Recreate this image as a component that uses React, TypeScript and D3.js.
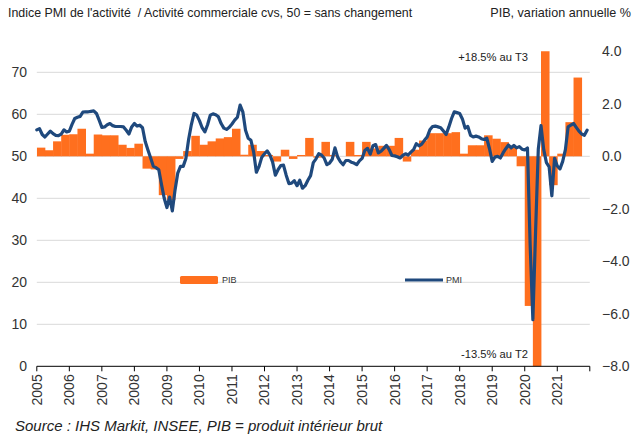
import * as d3 from 'd3';

// tick labels
const yearTicks = [2005, 2006, 2007, 2008, 2009, 2010, 2011, 2012, 2013, 2014, 2015, 2016, 2017, 2018, 2019, 2020, 2021];
const leftTicks = [0, 10, 20, 30, 40, 50, 60, 70];
const rightTicks = [4, 2, 0, -2, -4, -6, -8];

// PIB, variation trimestrielle (%), 2005T1 -> 2021T3
const pibQuarterly = [
  0.33, 0.23, 0.57, 0.82,
  0.84, 1.05, 0.1, 0.83,
  0.8, 0.8, 0.44, 0.32,
  0.48, -0.47, -0.5, -1.48,
  -1.67, -0.1, 0.2, 0.78,
  0.44, 0.57, 0.68, 0.73,
  1.05, 0.06, 0.44, 0.2,
  0.05, -0.2, 0.25, -0.1,
  0.05, 0.7, -0.05, 0.55,
  0.05, 0.0, 0.55, 0.05,
  0.55, 0.3, 0.4, 0.4,
  0.7, -0.2, 0.25, 0.6,
  0.88, 0.88, 0.88, 0.92,
  0.1, 0.42, 0.42, 0.8,
  0.67, 0.54, 0.36, -0.38,
  -5.7, -13.5, 18.5, -1.1,
  0.1, 1.3, 3.0,
];

// PMI composite, mensuel, jan 2005 -> déc 2021
const pmiMonthly = [
  56.3, 56.6, 55.2, 54.6, 55.3, 56.0, 55.4, 55.0, 54.9, 55.3, 56.3, 55.8,
  56.0, 57.6, 59.0, 59.3, 59.5, 60.5, 60.6, 60.6, 60.7, 60.8, 60.2, 58.6,
  56.9, 57.0, 57.5, 57.8, 57.3, 57.1, 57.1, 57.1, 57.0, 56.2, 55.3, 57.0,
  57.8, 57.2, 57.4, 56.8, 53.5, 51.5, 49.6, 47.6, 47.3, 46.8, 43.3, 40.0,
  37.8, 40.3, 37.0, 42.0, 46.0, 47.6, 47.6, 49.5, 54.0, 57.5, 60.2, 59.8,
  58.5, 56.8, 55.8, 57.5, 59.8, 60.1, 59.9, 59.4, 57.8, 56.7, 56.4, 56.9,
  57.7, 58.6, 59.3, 62.2, 60.6, 56.2, 54.3, 53.8, 51.0, 46.2, 47.6, 49.8,
  50.6, 51.3, 50.3, 48.6, 45.5, 46.8, 47.8, 47.9, 45.5, 43.5, 43.6, 44.2,
  43.0, 44.3, 42.4, 43.0, 44.3, 45.4, 48.5, 49.4, 50.6, 50.3, 49.6, 48.0,
  48.4, 49.3, 52.0, 49.8, 48.7, 48.0, 49.0, 49.0, 48.6, 48.4, 48.0, 48.9,
  49.5, 51.4, 51.9, 50.5, 52.5, 52.8, 50.8, 51.2, 51.9, 52.6, 51.6, 50.2,
  50.1, 49.9, 49.6, 50.2, 50.6, 50.3, 51.0, 51.6, 53.0, 52.5, 52.9, 53.8,
  54.6, 56.3, 57.1, 57.2, 57.0, 56.8, 56.0, 55.2, 57.0, 59.0, 60.6, 60.4,
  60.2, 58.9, 56.7, 57.1, 55.0, 54.6, 54.8, 54.6, 54.2, 54.0, 54.3, 51.8,
  48.8, 49.8, 50.0, 49.6, 50.8, 51.8, 52.7, 52.0, 52.6, 52.0, 52.3, 51.7,
  51.5, 52.0, 28.9, 11.1, 32.1, 51.7, 57.3, 51.6, 48.5, 47.5, 40.6, 49.5,
  47.7, 47.0, 48.8, 51.6, 57.0, 57.4, 57.8, 56.9, 56.0, 55.3, 55.0, 56.2,
];

const ORANGE = '#FF6F1E';
const BLUE = '#1F497D';
const FONT = '"Liberation Sans", Arial, sans-serif';

export default function App() {
  const width = 635;
  const height = 437;
  const plot = { left: 36.8, right: 589.8, top: 51.3, bottom: 366.3 };

  const x = d3.scaleLinear().domain([2005, 2022]).range([plot.left, plot.right]);
  const yL = d3.scaleLinear().domain([0, 75]).range([plot.bottom, plot.top]);
  const yR = d3.scaleLinear().domain([-8, 4]).range([plot.bottom, plot.top]);
  const qWidth = x(2005.25) - x(2005);

  const pmiLine = d3
    .line<number>()
    .x((_d, i) => x(2005 + i / 12))
    .y((d) => yL(d));

  return (
    <div style={{ position: 'absolute', left: 0, top: 0 }}>
      <svg width={width} height={height} style={{ display: 'block', background: '#fff' }} fontFamily={FONT}>
        <defs>
          <clipPath id="plotClip">
            <rect x={plot.left} y={plot.top} width={plot.right - plot.left} height={plot.bottom - plot.top} />
          </clipPath>
        </defs>

        {/* titles */}
        <text x={8} y={17} fontSize={12.4} fill="#222" style={{ whiteSpace: 'pre' }}>
          {"Indice PMI de l'activité  / Activité commerciale cvs, 50 = sans changement"}
        </text>
        <text x={631} y={17} fontSize={12.6} fill="#222" textAnchor="end">
          PIB, variation annuelle %
        </text>

        {/* grid */}
        {leftTicks.filter((t) => t > 0).map((t) => (
          <line key={t} x1={plot.left} x2={plot.right} y1={yL(t)} y2={yL(t)} stroke="#D9D9D9" strokeWidth={1} />
        ))}

        {/* PIB bars */}
        <g clipPath="url(#plotClip)">
          {pibQuarterly.map((v, k) => {
            const cx = x(2005 + k / 4 + 0.125);
            const y0 = yR(0);
            const y1 = yR(v);
            return (
              <rect
                key={k}
                x={cx - qWidth / 2}
                width={qWidth + 0.4}
                y={Math.min(y0, y1)}
                height={Math.abs(y1 - y0)}
                fill={ORANGE}
              />
            );
          })}
        </g>

        {/* PMI line */}
        <path d={pmiLine(pmiMonthly) ?? ''} fill="none" stroke={BLUE} strokeWidth={3.2} strokeLinejoin="round" strokeLinecap="round" />

        {/* x axis */}
        <line x1={plot.left} x2={plot.right} y1={plot.bottom} y2={plot.bottom} stroke="#000" strokeWidth={1} />
        {[...yearTicks, 2022].map((yr) => (
          <line key={yr} x1={x(yr)} x2={x(yr)} y1={plot.bottom} y2={plot.bottom + 5} stroke="#000" strokeWidth={1} />
        ))}
        {yearTicks.map((yr) => (
          <text
            key={yr}
            transform={`translate(${x(yr)},${plot.bottom + 8}) rotate(-90)`}
            textAnchor="end"
            dy="0.35em"
            fontSize={14}
            fill="#333"
          >
            {yr}
          </text>
        ))}

        {/* left axis */}
        {leftTicks.map((t) => (
          <text key={t} x={27} y={yL(t)} dy="0.35em" textAnchor="end" fontSize={14} fill="#333">
            {t}
          </text>
        ))}

        {/* right axis */}
        {rightTicks.map((t) => (
          <text key={t} x={602} y={yR(t)} dy="0.35em" fontSize={14} fill="#333">
            {d3.format('.1f')(t)}
          </text>
        ))}

        {/* annotations */}
        <text x={528} y={61} textAnchor="end" fontSize={11.2} fill="#222">
          +18.5% au T3
        </text>
        <text x={528} y={358} textAnchor="end" fontSize={11.2} fill="#222">
          -13.5% au T2
        </text>

        {/* legend */}
        <rect x={180} y={276} width={38} height={8} fill={ORANGE} rx={1.5} />
        <text x={222} y={283} fontSize={9} fill="#333">
          PIB
        </text>
        <line x1={405} x2={443} y1={280} y2={280} stroke={BLUE} strokeWidth={3} />
        <text x={446} y={283} fontSize={9} fill="#333">
          PMI
        </text>

        {/* source */}
        <text x={15} y={431} fontSize={15} fontStyle="italic" fill="#222">
          Source : IHS Markit, INSEE, PIB = produit intérieur brut
        </text>
      </svg>
    </div>
  );
}
